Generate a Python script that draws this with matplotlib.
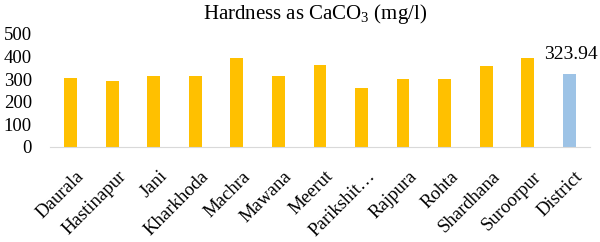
import matplotlib.pyplot as plt
from matplotlib.transforms import ScaledTranslation

# Hardness values per block (mg/l)
blocks = ['Daurala', 'Hastinapur', 'Jani', 'Kharkhoda', 'Machra', 'Mawana', 'Meerut',
          'Parikshit…', 'Rajpura', 'Rohta', 'Shardhana', 'Suroorpur', 'District']
hardness = [305, 294, 316, 315, 392, 313, 361, 259, 302, 302, 359, 392, 323.94]
bar_colors = ['#FFC000'] * 12 + ['#9DC3E6']

plt.rcParams['font.family'] = ['Liberation Serif', 'DejaVu Serif']
plt.rcParams['mathtext.fontset'] = 'custom'
plt.rcParams['mathtext.rm'] = 'Liberation Serif'
plt.rcParams['mathtext.it'] = 'Liberation Serif:italic'

fig = plt.figure(figsize=(6, 2.42), dpi=100)
ax = fig.add_axes([0.0833, 0.3926, 0.9, 0.467])
x = range(len(blocks))
ax.bar(x, hardness, width=0.31, color=bar_colors)

ax.text(x[-1] + 0.05, hardness[-1] + 48, f'{hardness[-1]:.2f}', ha='center', va='bottom',
        fontsize=14)

ax.set_title(r'Hardness as CaCO$_\mathrm{3}$ (mg/l)', fontsize=15, pad=11, x=0.49)
ax.set_ylim(0, 500)
ax.set_yticks([0, 100, 200, 300, 400, 500])
ax.set_xlim(-0.5, len(blocks) - 0.5)
ax.set_xticks(list(x))
ax.set_xticklabels(blocks, rotation=45, ha='right', rotation_mode='anchor')
ax.tick_params(axis='both', length=0, labelsize=13.5)
ax.tick_params(axis='y', pad=13)
ax.tick_params(axis='x', pad=15)
shift = ScaledTranslation(5 / 100, 0, fig.dpi_scale_trans)
for lab in ax.get_xticklabels():
    lab.set_transform(lab.get_transform() + shift)

for s in ['top', 'right', 'left']:
    ax.spines[s].set_visible(False)
ax.spines['bottom'].set_color('#D9D9D9')

fig.savefig('out.png', dpi=100)
